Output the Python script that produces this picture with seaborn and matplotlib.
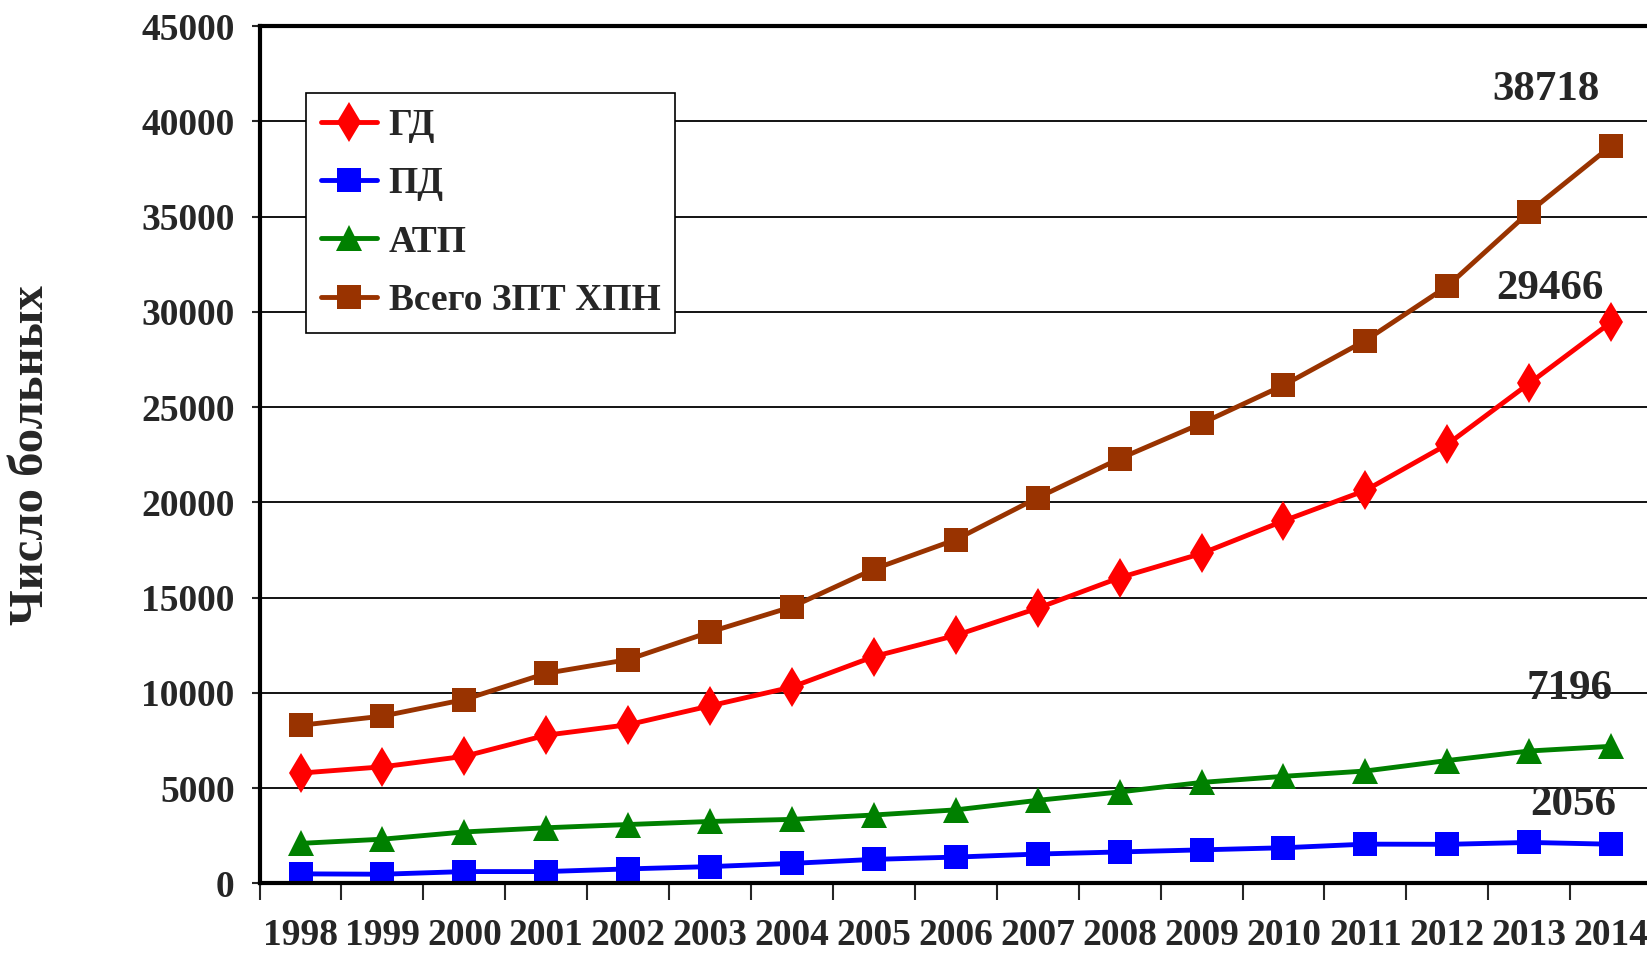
import matplotlib
matplotlib.use("Agg")
import matplotlib.pyplot as plt
import seaborn as sns
import pandas as pd
from matplotlib.ticker import MultipleLocator, FixedLocator

# data
years = list(range(1998, 2015))
gd = [5790, 6120, 6670, 7780, 8330, 9320, 10310, 11910, 13020, 14450, 16050, 17320, 19030, 20630, 23050, 26250, 29466]
pd_vals = [500, 480, 620, 620, 760, 880, 1050, 1260, 1380, 1540, 1650, 1760, 1870, 2060, 2050, 2150, 2056]
atp = [2100, 2320, 2700, 2920, 3090, 3250, 3360, 3590, 3860, 4360, 4800, 5300, 5620, 5900, 6450, 6950, 7196]
total = [8300, 8780, 9650, 11030, 11750, 13200, 14520, 16500, 18050, 20250, 22300, 24150, 26150, 28500, 31350, 35250, 38718]

names = ["ГД", "ПД", "АТП", "Всего ЗПТ ХПН"]
series = [gd, pd_vals, atp, total]
colors = ["#ff0000", "#0000ff", "#008000", "#993300"]
markers = ["d", "s", "^", "s"]
msizes = [20, 17, 19, 17]
# label offsets (points) for the last-year values
offsets = [(-44, 24), (-27, 28), (-30, 41), (-47, 40)]

sns.set_style("white")
plt.rcParams['font.family'] = ['Liberation Serif', 'DejaVu Serif']
plt.rcParams['font.weight'] = 'bold'

fig = plt.figure(figsize=(16.47, 9.55), dpi=100)
ax = fig.add_axes([0.1576, 0.075, 0.8455, 0.8975])

for name, vals, c, m, ms in zip(names, series, colors, markers, msizes):
    df = pd.DataFrame({"year": years, "value": vals})
    sns.lineplot(data=df, x="year", y="value", ax=ax, color=c, marker=m,
                 markersize=ms, markeredgewidth=0, linewidth=3.5, label=name)

for vals, off in zip(series, offsets):
    ax.annotate(str(vals[-1]), xy=(years[-1], vals[-1]), xytext=off,
                textcoords="offset points", ha="center", va="center",
                fontsize=31, fontweight="bold")

ax.set_xlim(years[0] - 0.5, years[-1] + 0.5)
ax.set_ylim(0, 45000)
ax.yaxis.set_major_locator(MultipleLocator(5000))
ax.grid(axis="y", color="black", linewidth=1.3)
ax.grid(axis="x", visible=False)

ax.set_xticks(years)
ax.set_xticklabels([str(y) for y in years])
ax.xaxis.set_minor_locator(FixedLocator([y - 0.5 for y in years] + [years[-1] + 0.5]))
ax.tick_params(axis="x", which="major", length=0, pad=25, labelsize=27)
ax.tick_params(axis="x", which="minor", length=12, width=1.5, direction="out", bottom=True)
ax.tick_params(axis="y", length=6, width=1.5, direction="out", left=True, pad=12, labelsize=27)

for side in ["left", "bottom", "top"]:
    ax.spines[side].set_linewidth(3)
    ax.spines[side].set_color("black")
ax.spines["right"].set_visible(False)

ax.set_xlabel("")
ax.set_ylabel("Число больных", fontsize=35, fontweight="bold")
ax.yaxis.set_label_coords(-0.148, 0.5)

leg = ax.legend(loc="upper left", bbox_to_anchor=(0.02, 0.944), fontsize=27,
                frameon=True, fancybox=False, edgecolor="black", framealpha=1,
                handlelength=1.5, labelspacing=0.62, borderpad=0.4, handletextpad=0.3)
leg.get_frame().set_linewidth(1.2)

fig.savefig("out.png", dpi=100)
